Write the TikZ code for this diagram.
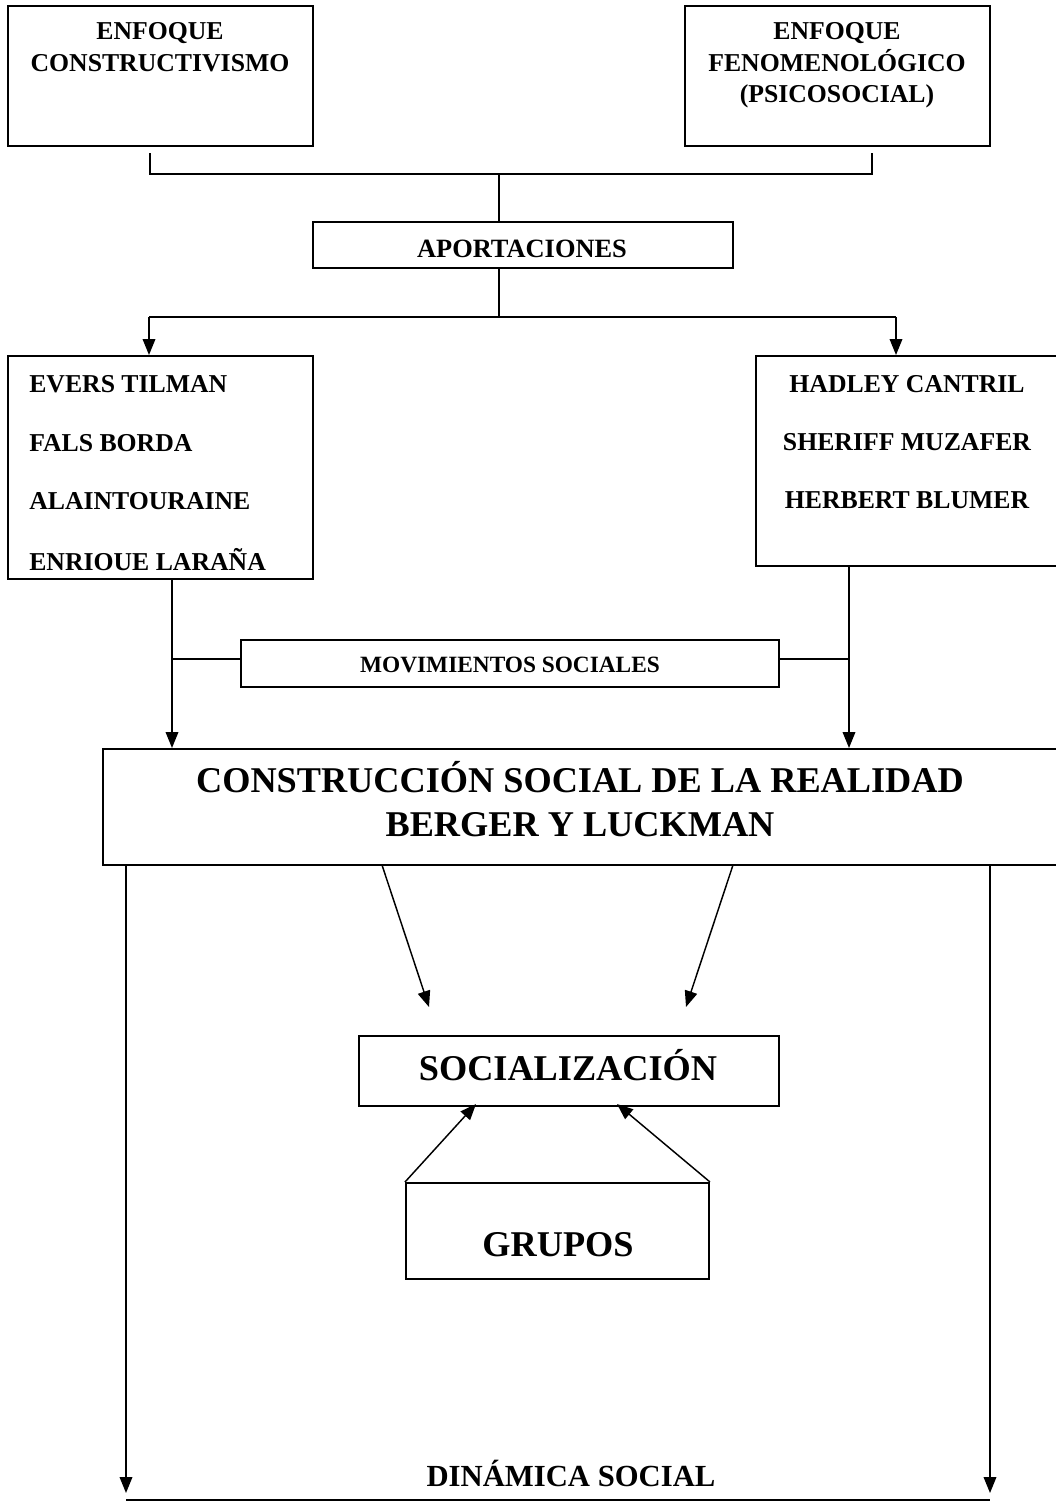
\documentclass[tikz,border=0pt]{standalone}
\usepackage{fontspec}
\setmainfont{Liberation Serif}
\usetikzlibrary{arrows.meta,fit}
\begin{document}
\begin{tikzpicture}[x=0.75pt,y=-0.75pt,
  box/.style={draw, line width=1.5pt, inner sep=0pt},
  conn/.style={line width=1.1pt},
  arr/.style={conn, -{Triangle[length=12pt,width=9.5pt]}},
  tx/.style={anchor=base, inner sep=0pt},
  txl/.style={anchor=base west, inner sep=0pt},
  fa/.style={font=\bfseries\fontsize{19.3pt}{20pt}\selectfont},
  fe/.style={font=\bfseries\fontsize{19.8pt}{21pt}\selectfont},
  fb/.style={font=\bfseries\fontsize{17.5pt}{19pt}\selectfont},
  fc/.style={font=\bfseries\fontsize{27.2pt}{28pt}\selectfont},
  fd/.style={font=\bfseries\fontsize{23pt}{24pt}\selectfont}]
\useasboundingbox (0,0) rectangle (1056,1506);
\clip (0,0) rectangle (1056,1506);

% top boxes
\node[box, fit={(8,6)(313,146)}] (enf1) {};
\node[tx,fa] (enf1a) at (160,39) {ENFOQUE};
\node[tx,fa] (enf1b) at (160,71) {CONSTRUCTIVISMO};
\node[box, fit={(685,6)(990,146)}] (enf2) {};
\node[tx,fa] (enf2a) at (837,39) {ENFOQUE};
\node[tx,fa] (enf2b) at (837,71) {FENOMENOLÓGICO};
\node[tx,fa] (enf2c) at (837,102) {(PSICOSOCIAL)};

% aportaciones
\node[box, fit={(313,222)(733,268)}] (apor) {};
\node[tx,fe] (aport) at (522,257) {APORTACIONES};

\coordinate (jl) at (150,174);
\coordinate (jr) at (872,174);
\coordinate (jm) at (499,174);
\draw[conn] ([yshift=-4.5pt]enf1.south -| jl) -- (jl) -- (jr) -- ([yshift=-4.5pt]enf2.south -| jr);
\draw[conn] (jm) -- (apor.north -| jm);

\coordinate (ja) at (499,317);
\coordinate (la) at (149,317);
\coordinate (ra) at (896,317);
\draw[conn] (apor.south -| ja) -- (ja);
\draw[conn] (la) -- (ra);

% author boxes
\node[box, fit={(8,356)(313,579)}] (left) {};
\node[txl,fa] (l1) at (29,392) {EVERS TILMAN};
\node[txl,fa] (l2) at (29,451) {FALS BORDA};
\node[txl,fa] (l3) at (29,509) {ALAINTOURAINE};
\node[txl,fa] (l4) at (29,570) {ENRIOUE LARAÑA};

\node[box, fit={(756,356)(1080,566)}] (right) {};
\node[tx,fa] (r1) at (907,392) {HADLEY CANTRIL};
\node[tx,fa] (r2) at (907,450) {SHERIFF MUZAFER};
\node[tx,fa] (r3) at (907,508) {HERBERT BLUMER};

\draw[arr] (la) -- (left.north -| la);
\draw[arr] (ra) -- (right.north -| ra);

% movimientos
\node[box, fit={(241,640)(779,687)}] (mov) {};
\node[tx,fb] (movt) at (510,672) {MOVIMIENTOS SOCIALES};

% construccion
\node[box, fit={(103,749)(1080,865)}] (cons) {};
\node[tx,fc] (cons1) at (580,792) {CONSTRUCCIÓN SOCIAL DE LA REALIDAD};
\node[tx,fc] (cons2) at (580,836) {BERGER Y LUCKMAN};

\coordinate (lm) at (172,659);
\coordinate (rm) at (849,659);
\draw[arr] (left.south -| lm) -- (cons.north -| lm);
\draw[arr] (right.south -| rm) -- (cons.north -| rm);
\draw[conn] (lm) -- (mov.west |- lm);
\draw[conn] (mov.east |- rm) -- (rm);

% socializacion
\node[box, fit={(359,1036)(779,1106)}] (soc) {};
\node[tx,fc] (soct) at (568,1080) {SOCIALIZACIÓN};

\coordinate (d1s) at (382,865);
\coordinate (d1e) at (429,1007);
\coordinate (d2s) at (733,865);
\coordinate (d2e) at (686,1007);
\draw[arr] (d1s) -- (d1e);
\draw[arr] (d2s) -- (d2e);

% grupos
\node[box, fit={(406,1183)(709,1279)}] (grp) {};
\node[tx,fc] (grpt) at (558,1256) {GRUPOS};

\coordinate (u1) at (476,1104);
\coordinate (u2) at (617,1104);
\draw[arr] (grp.north west) -- (u1);
\draw[arr] (grp.north east) -- (u2);

% dinamica social
\coordinate (bl) at (126,1493);
\coordinate (br) at (990,1493);
\draw[arr] (cons.south -| bl) -- (bl);
\draw[arr] (cons.south -| br) -- (br);
\node[tx,fd] (din) at (571,1486) {DINÁMICA SOCIAL};
\coordinate (ul) at (126,1499.5);
\coordinate (ur) at (990,1499.5);
\draw[line width=1.5pt] (ul) -- (ur);
\end{tikzpicture}
\end{document}
